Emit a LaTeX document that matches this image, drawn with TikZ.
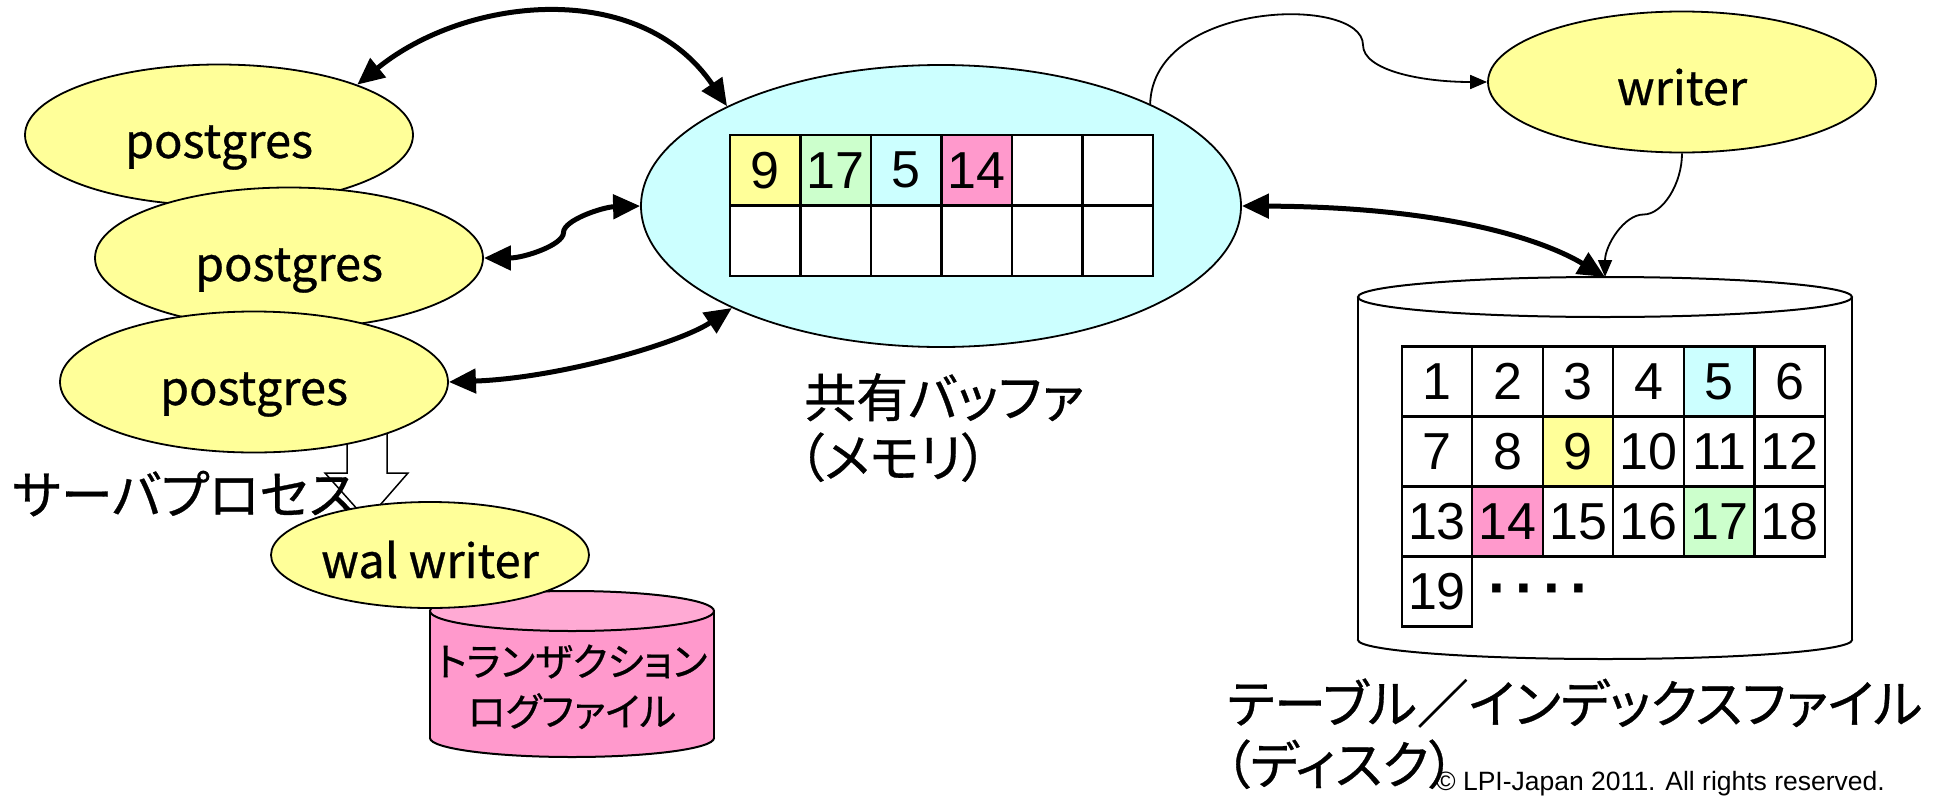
\documentclass[tikz,border=0pt]{standalone}
\usepackage{fontspec}
\newfontfamily\jpfont{Noto Sans CJK JP}[RawFeature=+palt, FakeBold=0.6]
\newfontfamily\arialfont{Liberation Sans}
\usetikzlibrary{shapes.geometric,arrows.meta}
\definecolor{yel}{HTML}{FFFF99}
\definecolor{cya}{HTML}{CCFFFF}
\definecolor{grn}{HTML}{CCFFCC}
\definecolor{pnk}{HTML}{FF99CC}
\definecolor{pnktop}{HTML}{FFAAD4}
\newcommand{\fsz}[1]{\fontsize{#1pt}{#1pt}\selectfont}
\tikzset{
 proc/.style={ellipse, draw=black, line width=1.8pt, fill=yel, minimum width=388pt, minimum height=141pt, inner sep=0pt, font=\jpfont\fsz{47}, text height=46pt, text depth=0pt},
 cellbox/.style={rectangle, draw=black, line width=2.2pt, minimum width=70.5pt, minimum height=70.5pt, inner sep=0pt, font=\arialfont\fsz{52}},
 dcellbox/.style={cellbox, minimum width=70.55pt, minimum height=70pt},
 bigarrow/.style={line width=5pt, {Triangle[length=27pt,width=24pt]}-{Triangle[length=27pt,width=24pt]}},
 thinarrow/.style={line width=1.8pt, -{Triangle[length=17pt,width=14pt]}},
 jlabel/.style={inner sep=0pt, font=\jpfont\fsz{52}},
 cyl/.style={line width=2pt, draw=black},
}
\begin{document}
\begin{tikzpicture}[x=1pt,y=-1pt]
\useasboundingbox (0,0) rectangle (1941,798);
\fill[white] (0,0) rectangle (1941,798);
% hollow arrow postgres -> wal writer
\draw[line width=1.5pt, fill=white] (347,430) -- (347,473) -- (325,473) -- (367,520) -- (408,473) -- (387,473) -- (387,430) -- cycle;
% server processes
\node[proc] (p1) at (219,135) {postgres};
\node[proc] (p2) at (289,258) {postgres};
\node[proc] (p3) at (254,382) {postgres};
\node[jlabel, anchor=base west] (srv) at (12,514) {サーバプロセス};
% transaction log cylinder
\fill[pnk] (572,738) ellipse [x radius=142, y radius=19];
\draw[cyl] (572,738) ellipse [x radius=142, y radius=19];
\fill[pnk] (430,611) rectangle (714,738);
\draw[cyl] (430,611) -- (430,738) (714,611) -- (714,738);
\filldraw[cyl, fill=pnktop] (572,611) ellipse [x radius=142, y radius=20];
\node[jlabel, font=\jpfont\fsz{39}, anchor=base] (tl1) at (572,676) {トランザクション};
\node[jlabel, font=\jpfont\fsz{39}, anchor=base] (tl2) at (572,726) {ログファイル};
\node[proc, minimum width=318pt, minimum height=106pt] (wal) at (430,555) {wal writer};
% shared buffer
\node[ellipse, draw=black, line width=1.8pt, fill=cya, minimum width=600pt, minimum height=282pt, inner sep=0pt] (buf) at (941,206) {};
\foreach \v/\c [count=\i] in {9/yel,17/grn,5/cya,14/pnk,{}/white,{}/white}{
  \node[cellbox, fill=\c] (bt\i) at ({730+70.5*(\i-0.5)},170.25) {\v};
  \node[cellbox, fill=white] (bb\i) at ({730+70.5*(\i-0.5)},240.75) {};
}
\node[jlabel, anchor=base west] (bufl1) at (804,417) {共有バッファ};
\node[jlabel, anchor=base west] (bufl2) at (798,477) {（メモリ）};
% writer
\node[proc] (writer) at (1682,82) {writer};
% disk cylinder
\fill[white] (1605,640) ellipse [x radius=247, y radius=19];
\draw[cyl] (1605,640) ellipse [x radius=247, y radius=19];
\fill[white] (1358,297) rectangle (1852,640);
\draw[cyl] (1358,297) -- (1358,640) (1852,297) -- (1852,640);
\filldraw[cyl, fill=white] (1605,297) ellipse [x radius=247, y radius=20];
\coordinate (disktop) at (1605,277);
\foreach \n in {1,...,19}{
  \pgfmathtruncatemacro\dcol{mod(\n-1,6)}
  \pgfmathtruncatemacro\drow{(\n-1)/6}
  \def\dfill{white}
  \ifnum\n=5 \def\dfill{cya}\fi
  \ifnum\n=9 \def\dfill{yel}\fi
  \ifnum\n=14 \def\dfill{pnk}\fi
  \ifnum\n=17 \def\dfill{grn}\fi
  \node[dcellbox, fill=\dfill] (d\n) at ({1401.7+70.55*(\dcol+0.5)},{346.5+70*(\drow+0.5)}) {\n};
}
\node[inner sep=0pt, anchor=base west, font=\arialfont\bfseries\fsz{60}] (dots) at (1488,608) {·\kern7.5pt·\kern7.5pt·\kern7.5pt·};
\node[jlabel, anchor=base west] (dl1) at (1227,723) {テーブル／インデックスファイル};
\node[jlabel, anchor=base west] (dl2) at (1224,784) {（ディスク）};
\node[inner sep=0pt, anchor=base west, font=\arialfont\fsz{26.5}] (copy) at (1436,790) {© LPI-Japan 2011. All rights reserved.};
% connectors
\draw[bigarrow] (p1.20) .. controls (466,-4) and (640,-22) .. (buf.155);
\draw[bigarrow] (p2.east) .. controls (524,258) and (563.5,245) .. (563.5,232.5) .. controls (563.5,220) and (603,207) .. (buf.west);
\draw[bigarrow] (p3.east) .. controls (560,378) and (680,343) .. (buf.206);
\draw[bigarrow] (buf.east) .. controls (1450,207) and (1545,241) .. (disktop);
\draw[thinarrow] (buf.26) .. controls (1153,0) and (1363,-5) .. (1363,45) .. controls (1363,70) and (1420,82) .. (writer.west);
\draw[thinarrow] (writer.south) .. controls (1682,183.75) and (1662.75,214.5) .. (1643.5,214.5) .. controls (1624.25,214.5) and (1605,245.25) .. (disktop);
\end{tikzpicture}
\end{document}
